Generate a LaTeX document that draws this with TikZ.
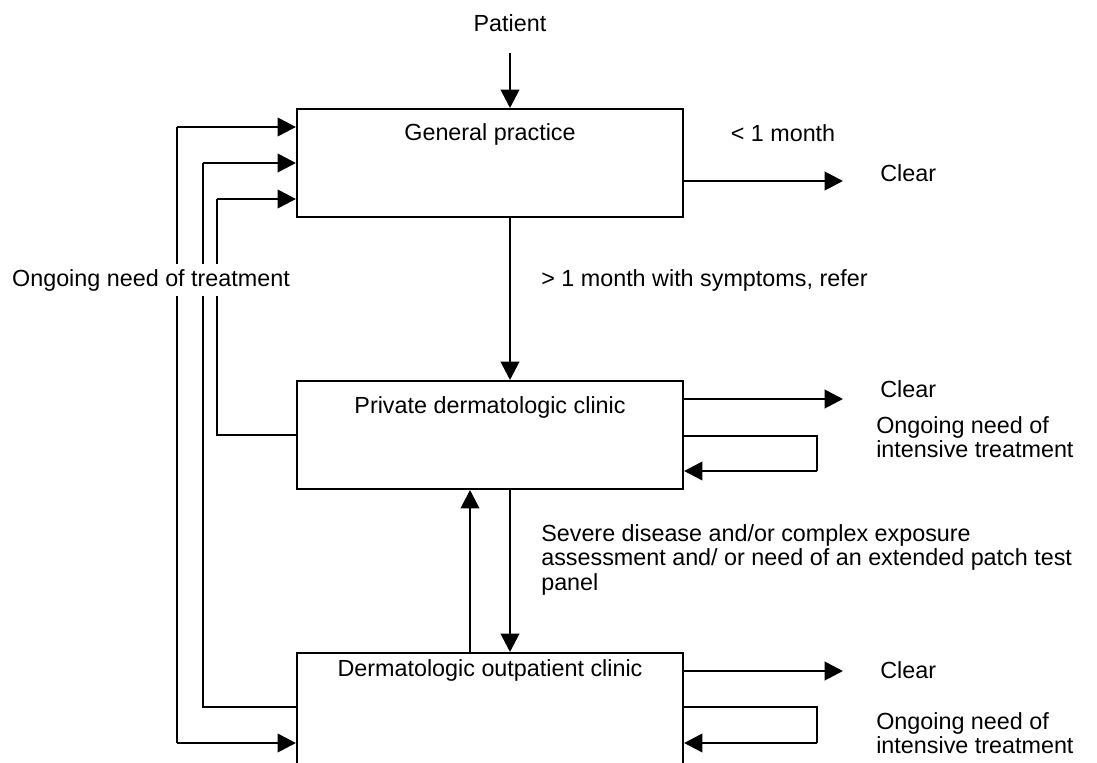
\documentclass[tikz,border=0pt]{standalone}
\usepackage{fontspec}
\setmainfont{Liberation Sans}
\usetikzlibrary{arrows.meta,positioning}
\begin{document}
\begin{tikzpicture}[x=0.025cm, y=-0.025cm,
  every node/.style={font=\fontsize{16.6}{17.5}\selectfont},
  box/.style={draw, line width=1.4pt, minimum width=9.65cm, minimum height=2.7cm},
  link/.style={line width=1.4pt},
  arr/.style={line width=2pt, -{Triangle[length=13pt, width=13pt]}},
  txt/.style={anchor=west, align=left, inner sep=0pt}]
\clip (0,0) rectangle (1097,762);

% boxes
\node [box] (gp) at (490,163) {};
\node [box] (pdc) at (490,435) {};
\node [box, minimum height=3.5cm] (doc) at (490,723) {};
\node (gptitle) at (490,134) {General practice};
\node (pdctitle) at (490,407) {Private dermatologic clinic};
\node (doctitle) at (490,670) {Dermatologic outpatient clinic};

% main flow
\node (patient) at (510,23) {Patient};
\coordinate (pin) at (510,53);
\coordinate (up) at (470,0);
\draw [arr] (pin) -- (gp.north -| pin);
\draw [arr] (gp.south -| pin) -- (pdc.north -| pin);
\draw [arr] (pdc.south -| pin) -- (doc.north -| pin);
\draw [arr] (doc.north -| up) -- (pdc.south -| up);
\node [txt] (refer) at (541,280) {> 1 month with symptoms, refer};
\node [txt, anchor=north west] (severe) at (541,524) {Severe disease and/or complex exposure\\assessment and/ or need of an extended patch test\\panel};

% way out to the right
\coordinate (c1) at (843,181);
\coordinate (c2) at (843,399);
\coordinate (c3) at (843,671);
\draw [arr] (gp.east |- c1) -- (c1);
\draw [arr] (pdc.east |- c2) -- (c2);
\draw [arr] (doc.east |- c3) -- (c3);
\node (month) at (783,133) {< 1 month};
\node [txt] (clear1) at (880,173) {Clear};
\node [txt] (clear2) at (880,389) {Clear};
\node [txt] (clear3) at (880,670) {Clear};

% loops
\coordinate (p1) at (817,436);
\coordinate (p2) at (817,471);
\coordinate (d1) at (817,707);
\coordinate (d2) at (817,743);
\draw [link] (pdc.east |- p1) -- (p1) -- (p2);
\draw [arr] (p2) -- (pdc.east |- p2);
\draw [link] (doc.east |- d1) -- (d1) -- (d2);
\draw [arr] (d2) -- (doc.east |- d2);
\node [txt] (ongp) at (876,437) {Ongoing need of\\intensive treatment};
\node [txt] (ongd) at (876,733) {Ongoing need of\\intensive treatment};

% back to general practice
\coordinate (i1) at (217,199);
\coordinate (i2) at (217,435);
\coordinate (m1) at (203,163);
\coordinate (m2) at (203,707);
\coordinate (o1) at (177,127);
\coordinate (o2) at (177,743);
\draw [link] (pdc.west |- i2) -- (i2) -- (i1);
\draw [arr] (i1) -- (gp.west |- i1);
\draw [link] (doc.west |- m2) -- (m2) -- (m1);
\draw [arr] (m1) -- (gp.west |- m1);
\draw [link] (o2) -- (o1);
\draw [arr] (o1) -- (gp.west |- o1);
\draw [arr] (o2) -- (doc.west |- o2);
\node [fill=white] (ongoing) at (151,280) {Ongoing need of treatment};
\end{tikzpicture}
\end{document}
